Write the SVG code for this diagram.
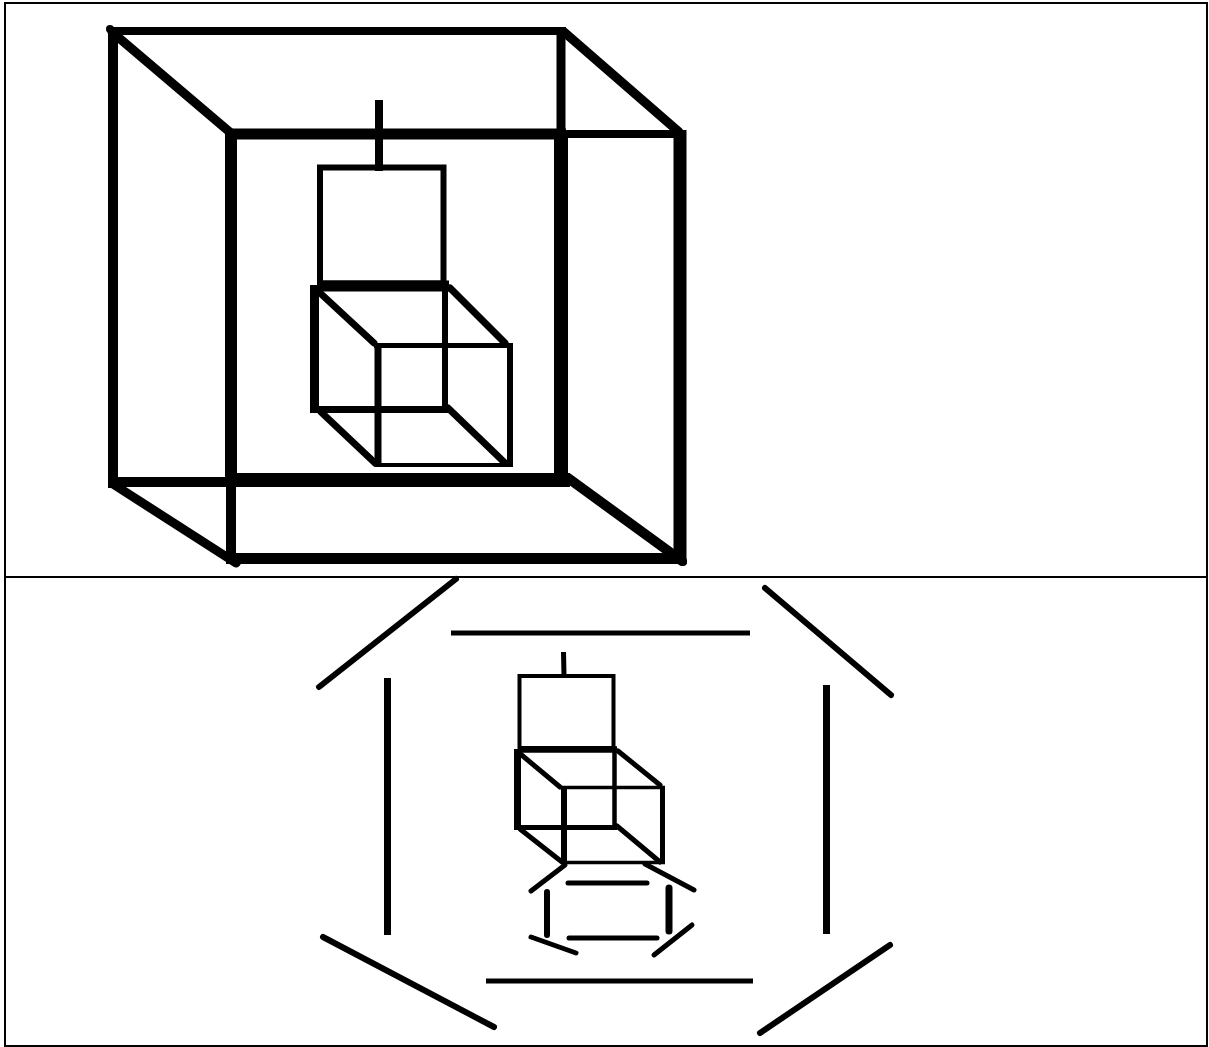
<svg xmlns="http://www.w3.org/2000/svg" width="1209" height="1047" viewBox="0 0 1209 1047">
<style>
line{stroke:#000;stroke-linecap:butt}
.r{stroke-linecap:round}
rect.o{fill:none;stroke:#000}
</style>
<rect width="1209" height="1047" fill="#fff"/>
<g id="frame">
<rect class="o" x="5" y="3" width="1202" height="1043" stroke-width="2"/>
<line x1="5" y1="577" x2="1207" y2="577" stroke-width="2"/>
</g>
<g id="top-cube">
<g id="outer-cube">
<line x1="108" y1="31" x2="566" y2="31" stroke-width="8"/>
<line x1="113" y1="28" x2="113" y2="488" stroke-width="10"/>
<line x1="561" y1="28" x2="561" y2="132" stroke-width="9"/>
<line x1="561" y1="130" x2="561" y2="487" stroke-width="14"/>
<line x1="108" y1="482" x2="232" y2="482" stroke-width="10"/>
<line x1="226" y1="480" x2="570" y2="480" stroke-width="14"/>
<line x1="228" y1="134" x2="566" y2="134" stroke-width="11"/>
<line x1="560" y1="134" x2="686" y2="134" stroke-width="8"/>
<line x1="231" y1="129" x2="231" y2="484" stroke-width="12"/>
<line x1="231" y1="480" x2="231" y2="564" stroke-width="10"/>
<line x1="680" y1="130" x2="680" y2="564" stroke-width="13"/>
<line x1="231" y1="558.500" x2="686" y2="558.500" stroke-width="11"/>
<line class="r" x1="112" y1="32" x2="232" y2="134" stroke-width="9"/>
<line class="r" x1="564" y1="32" x2="679" y2="132" stroke-width="9"/>
<line class="r" x1="113" y1="484" x2="236" y2="563" stroke-width="9"/>
<line class="r" x1="568" y1="478" x2="682" y2="561" stroke-width="10"/>
<circle cx="110" cy="29" r="4"/>
<circle cx="683" cy="562" r="4"/>
<circle cx="237" cy="562" r="4"/>
</g>
<g id="upper-box">
<line x1="379" y1="100" x2="379" y2="171" stroke-width="8"/>
<rect class="o" x="320" y="167.500" width="123.500" height="116" stroke-width="6"/>
</g>
<g id="lower-cube">
<line x1="317" y1="286" x2="449" y2="286" stroke-width="11"/>
<line x1="314.500" y1="285" x2="314.500" y2="413" stroke-width="9"/>
<line x1="445" y1="286" x2="445" y2="410" stroke-width="6"/>
<line x1="310" y1="409.500" x2="449" y2="409.500" stroke-width="7"/>
<line x1="374" y1="345.500" x2="513" y2="345.500" stroke-width="5"/>
<line x1="378" y1="345" x2="378" y2="467" stroke-width="7"/>
<line x1="510" y1="343" x2="510" y2="467" stroke-width="6"/>
<line x1="376" y1="465" x2="513" y2="465" stroke-width="4"/>
<line class="r" x1="319" y1="292" x2="374" y2="343" stroke-width="7"/>
<line class="r" x1="450" y1="288" x2="505" y2="343" stroke-width="7"/>
<line class="r" x1="321" y1="412" x2="375" y2="463" stroke-width="7"/>
<line class="r" x1="448" y1="408" x2="505" y2="463" stroke-width="7"/>
</g>
</g>
<g id="bottom-figure">
<g id="fragments">
<line class="r" x1="319" y1="687" x2="456" y2="579" stroke-width="6"/>
<line class="r" x1="765" y1="588" x2="891" y2="695" stroke-width="6"/>
<line class="r" x1="323" y1="937" x2="494" y2="1027" stroke-width="6"/>
<line class="r" x1="760" y1="1033" x2="890" y2="945" stroke-width="6"/>
<line x1="451" y1="633" x2="750" y2="633" stroke-width="5"/>
<line x1="486" y1="981" x2="753" y2="981" stroke-width="5"/>
<line x1="387.500" y1="678" x2="387.500" y2="935" stroke-width="7"/>
<line x1="826.500" y1="685" x2="826.500" y2="934" stroke-width="7"/>
</g>
<g id="small-box">
<line x1="563.500" y1="652" x2="564" y2="676" stroke-width="5"/>
<rect class="o" x="519.500" y="676" width="94" height="72" stroke-width="4"/>
</g>
<g id="small-cube">
<line x1="518" y1="749.500" x2="617" y2="749.500" stroke-width="6.500"/>
<line x1="517.500" y1="749" x2="517.500" y2="830" stroke-width="7"/>
<line x1="614.500" y1="749" x2="614.500" y2="830" stroke-width="4.500"/>
<line x1="514" y1="827.500" x2="617" y2="827.500" stroke-width="5"/>
<line x1="561" y1="787.500" x2="665" y2="787.500" stroke-width="3.500"/>
<line x1="564" y1="787" x2="564" y2="864" stroke-width="6"/>
<line x1="662.500" y1="786" x2="662.500" y2="864" stroke-width="5"/>
<line x1="561" y1="862.500" x2="665" y2="862.500" stroke-width="3.500"/>
<line class="r" x1="518" y1="752" x2="560" y2="787" stroke-width="5"/>
<line class="r" x1="618" y1="751" x2="660" y2="785" stroke-width="5"/>
<line class="r" x1="520" y1="829" x2="562" y2="862" stroke-width="5"/>
<line class="r" x1="617" y1="826" x2="660" y2="862" stroke-width="5"/>
</g>
<g id="small-fragments">
<line class="r" x1="531" y1="891" x2="565" y2="865" stroke-width="5"/>
<line class="r" x1="645" y1="864" x2="694" y2="890" stroke-width="5"/>
<line class="r" x1="568" y1="883" x2="647" y2="883" stroke-width="5"/>
<line class="r" x1="569" y1="938" x2="657" y2="938" stroke-width="5"/>
<line class="r" x1="547" y1="892" x2="547" y2="935" stroke-width="6"/>
<line class="r" x1="669" y1="888" x2="669" y2="931" stroke-width="7"/>
<line class="r" x1="531" y1="937" x2="576" y2="953" stroke-width="5"/>
<line class="r" x1="654" y1="955" x2="692" y2="925" stroke-width="5"/>
</g>
</g>
</svg>
